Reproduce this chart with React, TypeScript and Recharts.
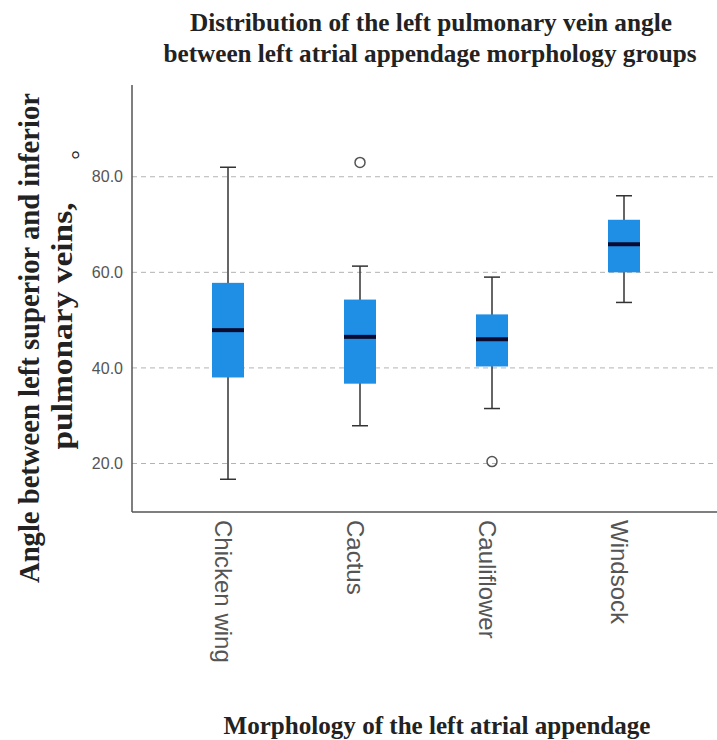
import { ComposedChart, Bar, Scatter, XAxis, YAxis, CartesianGrid } from 'recharts'

// box plot: angle between left superior and inferior pulmonary veins per LAA morphology
const categories = ['Chicken wing', 'Cactus', 'Cauliflower', 'Windsock']
const mins = [16.7, 27.9, 31.5, 53.7]
const q1s = [38.0, 36.7, 40.3, 60.0]
const medians = [47.9, 46.5, 46.0, 65.9]
const q3s = [57.8, 54.3, 51.2, 71.0]
const maxs = [82.0, 61.3, 59.0, 76.0]
const outliers: (number | null)[] = [null, 83.0, 20.4, null]
const yTicks = [20, 40, 60, 80]

const rows = categories.map((name, i) => ({
  name,
  range: [mins[i], maxs[i]],
  min: mins[i],
  q1: q1s[i],
  median: medians[i],
  q3: q3s[i],
  max: maxs[i],
  outlier: outliers[i],
}))

const W = 717
const H = 740
const BOX_BLUE = '#1f8fe6'
const SERIF = '"Liberation Serif", "Times New Roman", serif'

// draws whiskers, box and median from the range bar's own geometry
function BoxShape(props: any) {
  const { x, y, width, height, payload } = props
  if (x == null || y == null) return null
  const top = Math.min(y, y + height)
  const bottom = Math.max(y, y + height)
  const { min, max, q1, q3, median } = payload
  const py = (v: number) => bottom - ((v - min) / (max - min)) * (bottom - top)
  const cx = x + width / 2
  const cap = width / 4
  return (
    <g>
      <line x1={cx} x2={cx} y1={py(max)} y2={py(min)} stroke="#333" strokeWidth={1.5} />
      <line x1={cx - cap} x2={cx + cap} y1={py(max)} y2={py(max)} stroke="#333" strokeWidth={1.5} />
      <line x1={cx - cap} x2={cx + cap} y1={py(min)} y2={py(min)} stroke="#333" strokeWidth={1.5} />
      <rect x={x} y={py(q3)} width={width} height={py(q1) - py(q3)} fill={BOX_BLUE} />
      <line x1={x} x2={x + width} y1={py(median)} y2={py(median)} stroke="#0b0b30" strokeWidth={4} />
    </g>
  )
}

function OutlierShape(props: any) {
  const { cx, cy, payload } = props
  if (payload == null || payload.outlier == null || cx == null || cy == null) return <g />
  return <circle cx={cx} cy={cy} r={5} fill="none" stroke="#555" strokeWidth={1.5} />
}

function CatTick(props: any) {
  const { x, y, payload } = props
  return (
    <text
      transform={`translate(${x - 13},${y}) rotate(90)`}
      textAnchor="start"
      fontFamily='"Liberation Sans", Arial, sans-serif'
      fontSize={24}
      fill="#555"
    >
      {payload.value}
    </text>
  )
}

export default function App() {
  return (
    <div style={{ position: 'absolute', left: 0, top: 0, width: W, height: H, background: '#fff' }}>
      <ComposedChart
        width={W}
        height={H}
        data={rows}
        margin={{ top: 85, right: 0, bottom: 78, left: 0 }}
      >
        <CartesianGrid vertical={false} horizontalValues={yTicks} stroke="#b3b3b3" strokeDasharray="5 4" />
        <XAxis
          dataKey="name"
          type="category"
          height={150}
          padding={{ left: 30, right: 27 }}
          axisLine={{ stroke: '#555', strokeWidth: 1.5 }}
          tickLine={false}
          tickSize={0}
          tickMargin={8}
          interval={0}
          tick={<CatTick />}
        />
        <YAxis
          type="number"
          domain={[9.85, 99.2]}
          ticks={yTicks}
          allowDataOverflow
          width={132}
          axisLine={{ stroke: '#555', strokeWidth: 1.5 }}
          tickLine={false}
          tickSize={0}
          tickMargin={9}
          tick={{ fill: '#555', fontSize: 16, fontFamily: '"Liberation Sans", Arial, sans-serif' }}
          tickFormatter={(v: number) => v.toFixed(1)}
        />
        <Bar dataKey="range" barSize={32} shape={BoxShape} isAnimationActive={false} />
        <Scatter dataKey="outlier" shape={OutlierShape} isAnimationActive={false} />
      </ComposedChart>
      <svg
        width={W}
        height={H}
        style={{ position: 'absolute', left: 0, top: 0, pointerEvents: 'none' }}
      >
        <g fontFamily={SERIF} fontWeight="bold" fill="#222">
          <text x={431} y={31} fontSize={25} textAnchor="middle" textLength={482} lengthAdjust="spacingAndGlyphs">
            Distribution of the left pulmonary vein angle
          </text>
          <text x={430} y={62} fontSize={25} textAnchor="middle" textLength={533} lengthAdjust="spacingAndGlyphs">
            between left atrial appendage morphology groups
          </text>
          <text x={437} y={734} fontSize={25} textAnchor="middle" textLength={427} lengthAdjust="spacingAndGlyphs">
            Morphology of the left atrial appendage
          </text>
          <text transform="translate(39,338) rotate(-90)" fontSize={29} textAnchor="middle" textLength={490} lengthAdjust="spacingAndGlyphs">
            Angle between left superior and inferior
          </text>
          <text transform="translate(72,326) rotate(-90)" fontSize={29} textAnchor="middle" textLength={247} lengthAdjust="spacingAndGlyphs">
            pulmonary veins,
          </text>
          <text transform="translate(88,155) rotate(-90)" fontSize={24} fontWeight="normal" textAnchor="middle">
            °
          </text>
        </g>
      </svg>
    </div>
  )
}
